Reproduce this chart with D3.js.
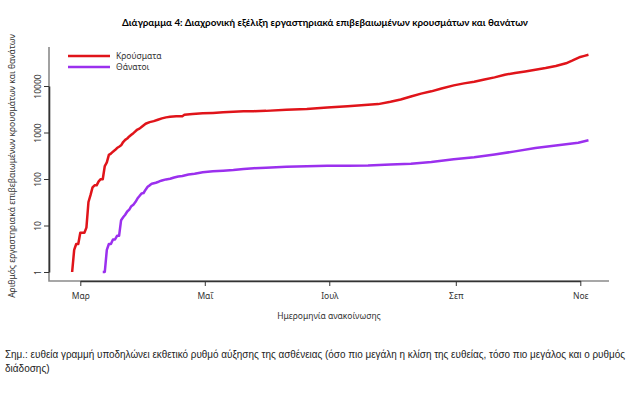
<!DOCTYPE html>
<html><head><meta charset="utf-8">
<script src="https://cdn.jsdelivr.net/npm/d3@7"></script>
<style>body{margin:0;background:#fff}svg{display:block}</style>
</head><body>
<svg id="chart" width="643" height="394"></svg>
<script>
// ---- data ----
const casesDates = ["2020-02-26","2020-02-27","2020-02-28","2020-02-29","2020-03-01","2020-03-02","2020-03-03","2020-03-04","2020-03-05","2020-03-06","2020-03-07","2020-03-08","2020-03-09","2020-03-10","2020-03-11","2020-03-12","2020-03-13","2020-03-14","2020-03-15","2020-03-16","2020-03-17","2020-03-18","2020-03-19","2020-03-20","2020-03-21","2020-03-22","2020-03-23","2020-03-24","2020-03-25","2020-03-26","2020-03-27","2020-03-28","2020-03-29","2020-03-30","2020-03-31","2020-04-02","2020-04-04","2020-04-06","2020-04-08","2020-04-10","2020-04-12","2020-04-14","2020-04-17","2020-04-20","2020-04-21","2020-04-25","2020-04-30","2020-05-05","2020-05-10","2020-05-15","2020-05-20","2020-05-25","2020-05-31","2020-06-10","2020-06-20","2020-06-30","2020-07-10","2020-07-20","2020-07-25","2020-07-31","2020-08-05","2020-08-10","2020-08-15","2020-08-20","2020-08-25","2020-08-31","2020-09-05","2020-09-10","2020-09-15","2020-09-20","2020-09-25","2020-09-30","2020-10-05","2020-10-10","2020-10-15","2020-10-20","2020-10-25","2020-10-28","2020-11-01","2020-11-03","2020-11-05"];
const casesValues = [1,3,4,4,7,7,7,9,32,45,66,73,73,89,99,99,190,228,331,352,387,418,464,495,530,624,695,743,821,892,966,1061,1156,1212,1314,1544,1673,1755,1884,2011,2114,2170,2224,2245,2401,2506,2591,2642,2710,2810,2850,2880,2918,3090,3200,3432,3670,3940,4080,4587,5120,5940,6860,7680,8860,10317,11390,12400,13730,15320,17440,19079,20540,22360,24400,27000,30780,35000,42200,44500,46900];

const deathsDates = ["2020-03-12","2020-03-13","2020-03-14","2020-03-15","2020-03-16","2020-03-17","2020-03-18","2020-03-19","2020-03-20","2020-03-21","2020-03-22","2020-03-23","2020-03-24","2020-03-25","2020-03-26","2020-03-27","2020-03-28","2020-03-29","2020-03-30","2020-03-31","2020-04-01","2020-04-02","2020-04-03","2020-04-04","2020-04-05","2020-04-06","2020-04-07","2020-04-08","2020-04-09","2020-04-10","2020-04-12","2020-04-14","2020-04-16","2020-04-18","2020-04-20","2020-04-23","2020-04-26","2020-04-30","2020-05-05","2020-05-10","2020-05-15","2020-05-20","2020-05-25","2020-05-31","2020-06-10","2020-06-20","2020-06-30","2020-07-10","2020-07-20","2020-07-31","2020-08-10","2020-08-20","2020-08-31","2020-09-10","2020-09-20","2020-09-30","2020-10-10","2020-10-20","2020-10-31","2020-11-05"];
const deathsValues = [1,1,3,4,4,5,5,6,6,13,15,17,20,22,26,28,32,38,43,49,50,59,68,73,79,81,83,86,90,93,98,101,108,113,116,125,130,140,146,151,156,165,171,175,183,188,192,193,194,206,213,232,266,292,336,393,463,525,603,680];

const seriesNames = ["Κρούσματα","Θάνατοι"];
const seriesColors = ["#e0141a","#9b30ee"];
const xTickDates = ["2020-03-01","2020-05-01","2020-07-01","2020-09-01","2020-11-01"];
const xTickLabels = ["Μαρ","Μαΐ","Ιουλ","Σεπ","Νοε"];
const yTickValues = [1,10,100,1000,10000];
const yTickLabels = ["1","10","100","1000","10000"];

const titleText = "Διάγραμμα 4: Διαχρονική εξέλιξη εργαστηριακά επιβεβαιωμένων κρουσμάτων και θανάτων";
const xTitle = "Ημερομηνία ανακοίνωσης";
const yTitle = "Αριθμός εργαστηριακά επιβεβαιωμένων κρουσμάτων και θανάτων";
const noteLine1 = "Σημ.: ευθεία γραμμή υποδηλώνει εκθετικό ρυθμό αύξησης της ασθένειας (όσο πιο μεγάλη η κλίση της ευθείας, τόσο πιο μεγάλος και ο ρυθμός";
const noteLine2 = "διάδοσης)";

// ---- drawing ----
const svg = d3.select("#chart");
const parse = d3.utcParse("%Y-%m-%d");
const font = "'Noto Sans', 'DejaVu Sans', sans-serif";

const x = d3.scaleUtc().domain([parse("2020-03-01"), parse("2020-11-01")]).range([80.3, 580.3]);
const y = d3.scaleLog().domain([1, 10000]).range([272, 86]);

const box = {left: 49, right: 609, top: 47, bottom: 281};

// L-shaped frame
svg.append("path")
  .attr("d", `M${box.left},${box.top}V${box.bottom}H${box.right}`)
  .attr("fill", "none").attr("stroke", "#8a8a8a").attr("stroke-width", 1.6);

// x axis
const xAxis = d3.axisBottom(x)
  .tickValues(xTickDates.map(parse))
  .tickFormat((d, i) => xTickLabels[i])
  .tickSize(5).tickPadding(7).tickSizeOuter(0);
const gx = svg.append("g").attr("transform", `translate(0,${box.bottom})`).call(xAxis);
gx.select(".domain").attr("stroke", "#333").attr("stroke-width", 1.6);
gx.selectAll(".tick line").attr("stroke", "#333");
gx.selectAll("text").attr("font-family", font).attr("font-size", 8.5).attr("fill", "#333");

// y axis
const yAxis = d3.axisLeft(y)
  .tickValues(yTickValues)
  .tickFormat((d, i) => yTickLabels[i])
  .tickSize(5).tickSizeOuter(0);
const gy = svg.append("g").attr("transform", `translate(${box.left},0)`).call(yAxis);
gy.select(".domain").attr("stroke", "#333").attr("stroke-width", 1.6);
gy.selectAll(".tick line").attr("stroke", "#333");
gy.selectAll("text")
  .attr("font-family", font).attr("font-size", 8.5).attr("fill", "#333")
  .attr("transform", "rotate(-90)")
  .attr("x", 0).attr("y", -8.5).attr("dy", 0)
  .style("text-anchor", "middle");

// lines
const line = d3.line().x(d => x(d.date)).y(d => y(d.value));
const casesData = casesDates.map((d, i) => ({date: parse(d), value: casesValues[i]}));
const deathsData = deathsDates.map((d, i) => ({date: parse(d), value: deathsValues[i]}));
[casesData, deathsData].forEach((data, i) => {
  svg.append("path").datum(data)
    .attr("d", line)
    .attr("fill", "none")
    .attr("stroke", seriesColors[i])
    .attr("stroke-width", 2.5)
    .attr("stroke-linejoin", "round");
});

// legend
seriesNames.forEach((name, i) => {
  const ly = 56 + i * 11;
  svg.append("line").attr("x1", 68).attr("x2", 110).attr("y1", ly).attr("y2", ly)
    .attr("stroke", seriesColors[i]).attr("stroke-width", 2.5);
  svg.append("text").attr("x", 116).attr("y", ly).attr("dy", "0.35em")
    .attr("font-family", font).attr("font-size", 8.5).attr("fill", "#333").text(name);
});

// titles
svg.append("text").attr("x", 325).attr("y", 26)
  .attr("text-anchor", "middle")
  .attr("font-family", "Lato, 'Noto Sans', sans-serif").attr("font-weight", "bold")
  .attr("font-size", 10).attr("fill", "#000")
  .attr("textLength", 406).attr("lengthAdjust", "spacingAndGlyphs")
  .text(titleText);

svg.append("text").attr("x", 329).attr("y", 319)
  .attr("text-anchor", "middle")
  .attr("font-family", font).attr("font-size", 8.5).attr("fill", "#333")
  .text(xTitle);

svg.append("text")
  .attr("transform", "translate(15,166) rotate(-90)")
  .attr("text-anchor", "middle")
  .attr("font-family", font).attr("font-size", 8.5).attr("fill", "#333")
  .text(yTitle);

// footnote
svg.append("text").attr("x", 5).attr("y", 357.5)
  .attr("font-family", "'Liberation Sans', Arial, sans-serif").attr("font-size", 10).attr("fill", "#222")
  .attr("textLength", 620).attr("lengthAdjust", "spacingAndGlyphs")
  .text(noteLine1);
svg.append("text").attr("x", 5).attr("y", 371.5)
  .attr("font-family", "'Liberation Sans', Arial, sans-serif").attr("font-size", 10).attr("fill", "#222")
  .text(noteLine2);
</script>
</body></html>
